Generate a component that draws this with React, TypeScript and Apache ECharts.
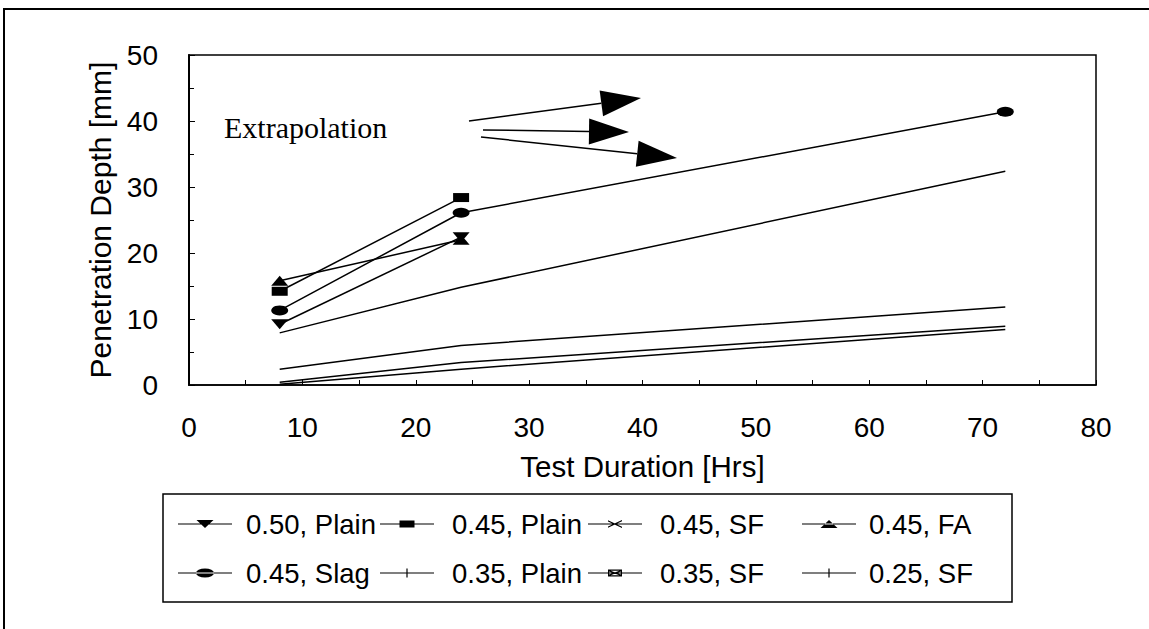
import React, { useEffect, useRef } from "react";
import * as echarts from "echarts";

// ---- data ----
const hours = [8, 24, 72];
const seriesNames = [
  "0.50, Plain",
  "0.45, Plain",
  "0.45, SF",
  "0.45, FA",
  "0.45, Slag",
  "0.35, Plain",
  "0.35, SF",
  "0.25, SF",
];
const plain050 = [9.2, 22.4];
const plain045 = [14.2, 28.4];
const sf045 = [7.9, 14.8, 32.4];
const fa045 = [15.8, 22.0];
const slag045 = [11.3, 26.1, 41.4];
const plain035 = [2.4, 6.0, 11.8];
const sf035 = [0.4, 3.4, 8.9];
const sf025 = [0.1, 2.4, 8.4];
const seriesValues = [plain050, plain045, sf045, fa045, slag045, plain035, sf035, sf025];

const xTickMin = 0;
const xTickMax = 80;
const xTickStep = 10;
const yTickMin = 0;
const yTickMax = 50;
const yTickStep = 10;

// ---- styling ----
const SANS = "'Liberation Sans', Arial, sans-serif";
const SERIF = "'Liberation Serif', 'Times New Roman', serif";

const lineBase = "M0,0M54,10M0,4.5H54V5.5H0Z";
const legendIcons = [
  `path://${lineBase}M18.5,1H35.5L27,9Z`,
  `path://${lineBase}M19.5,1.5H34.5V8.5H19.5Z`,
  `path://${lineBase}M20,1.2L34,7.8L34,9L20,2.4ZM20,7.6L34,1L34,2.2L20,8.8Z`,
  `path://${lineBase}M18.5,9H35.5L27,1Z`,
  `path://${lineBase}M18,5A9,4.5 0 1 0 36,5A9,4.5 0 1 0 18,5Z`,
  `path://${lineBase}M26.4,0.5H27.6V9.5H26.4Z`,
  `path://${lineBase}M20,1.5H34V8.5H20ZM21.2,2.7V7.3H32.8V2.7ZM21.2,2.7L22.6,2.7L32.8,6.5L32.8,7.3L31.4,7.3L21.2,3.5ZM21.2,6.5L31.4,2.7L32.8,2.7L32.8,3.5L22.6,7.3L21.2,7.3Z`,
  `path://${lineBase}M26.4,0.5H27.6V9.5H26.4Z`,
];
const markerSymbols: any[] = [
  { symbol: "triangle", symbolSize: [17, 10], symbolRotate: 180 },
  { symbol: "rect", symbolSize: [16, 9] },
  { symbol: "none" },
  { symbol: "triangle", symbolSize: [17, 10] },
  { symbol: "circle", symbolSize: [17, 10] },
  { symbol: "none" },
  { symbol: "none" },
  { symbol: "none" },
];

const legendIconLeft = [178, 380, 588, 802];
const legendTextLeft = [246, 452, 660, 869];
const legendRowCenter = [525, 574];

export default function App() {
  const ref = useRef<HTMLDivElement>(null);

  useEffect(() => {
    if (!ref.current) return;
    const chart = echarts.init(ref.current, null, { renderer: "svg" });

    const series = seriesNames.map((name, i) => ({
      name,
      type: "line",
      data: seriesValues[i].map((v, j) => [hours[j], v]),
      lineStyle: { color: "#000", width: 1.5 },
      itemStyle: { color: "#000" },
      ...markerSymbols[i],
      z: 3,
    }));

    const legends = seriesNames.map((name, i) => {
      const col = i % 4;
      const row = Math.floor(i / 4);
      return {
        show: true,
        orient: "horizontal",
        left: legendIconLeft[col],
        top: legendRowCenter[row] - 15,
        padding: 0,
        itemWidth: 54,
        itemHeight: 10,
        selectedMode: false,
        data: [{ name, icon: legendIcons[i] }],
        itemStyle: { borderWidth: 0 },
        textStyle: {
          fontFamily: SANS,
          fontSize: 27.5,
          color: "#000",
          padding: [0, 0, 0, legendTextLeft[col] - legendIconLeft[col] - 54 - 5],
        },
      };
    });

    const arrows = [
      { from: [469, 121], to: [641, 98] },
      { from: [483, 130], to: [629, 132] },
      { from: [481, 137], to: [677, 158] },
    ];
    const arrowGraphics: any[] = [];
    arrows.forEach((a) => {
      const dx = a.to[0] - a.from[0];
      const dy = a.to[1] - a.from[1];
      const len = Math.sqrt(dx * dx + dy * dy);
      const ux = dx / len;
      const uy = dy / len;
      const headLen = 40;
      const half = 13;
      const bx = a.to[0] - ux * headLen;
      const by = a.to[1] - uy * headLen;
      arrowGraphics.push({
        type: "line",
        shape: { x1: a.from[0], y1: a.from[1], x2: bx, y2: by },
        style: { stroke: "#000", lineWidth: 1.5 },
      });
      arrowGraphics.push({
        type: "polygon",
        shape: {
          points: [
            [a.to[0], a.to[1]],
            [bx - uy * half, by + ux * half],
            [bx + uy * half, by - ux * half],
          ],
        },
        style: { fill: "#000" },
      });
    });

    chart.setOption({
      animation: false,
      backgroundColor: "#fff",
      grid: {
        left: 189,
        right: 53,
        top: 55,
        bottom: 244,
        show: true,
        borderColor: "#000",
        borderWidth: 1.5,
        containLabel: false,
      },
      xAxis: {
        type: "value",
        min: xTickMin,
        max: xTickMax,
        interval: xTickStep,
        name: "Test Duration [Hrs]",
        nameLocation: "middle",
        nameGap: 66,
        nameTextStyle: { fontFamily: SANS, fontSize: 29.5, color: "#000" },
        axisLine: { show: true, onZero: false, lineStyle: { color: "#000", width: 1.5 } },
        axisTick: { show: true, inside: true, length: 5, lineStyle: { color: "#000" } },
        minorTick: { show: true, splitNumber: 2, length: 5, lineStyle: { color: "#000" } },
        splitLine: { show: false },
        axisLabel: { fontFamily: SANS, fontSize: 28, color: "#000", margin: 28 },
      },
      yAxis: {
        type: "value",
        min: yTickMin,
        max: yTickMax,
        interval: yTickStep,
        name: "Penetration Depth [mm]",
        nameLocation: "middle",
        nameGap: 70,
        nameTextStyle: { fontFamily: SANS, fontSize: 30, color: "#000" },
        axisLine: { show: true, lineStyle: { color: "#000", width: 2 } },
        axisTick: { show: true, inside: true, length: 6, lineStyle: { color: "#000" } },
        minorTick: { show: true, splitNumber: 2, length: 5, lineStyle: { color: "#000" } },
        splitLine: { show: false },
        axisLabel: { fontFamily: SANS, fontSize: 28, color: "#000", margin: 31 },
      },
      legend: legends,
      series,
      graphic: [
        {
          type: "rect",
          shape: { x: 4, y: 9, width: 1300, height: 800 },
          style: { fill: "none", stroke: "#000", lineWidth: 2 },
          silent: true,
          z: -1,
        },
        {
          type: "rect",
          shape: { x: 163, y: 494, width: 849, height: 108 },
          style: { fill: "none", stroke: "#000", lineWidth: 1.5 },
          silent: true,
        },
        {
          type: "text",
          x: 224,
          y: 127,
          style: {
            text: "Extrapolation",
            font: `30px ${SERIF}`,
            fill: "#000",
            verticalAlign: "middle",
            align: "left",
          },
        },
        ...arrowGraphics,
      ],
    });

    return () => {
      chart.dispose();
    };
  }, []);

  return (
    <div
      ref={ref}
      style={{ position: "fixed", left: 0, top: 0, width: 1149, height: 629, background: "#fff" }}
    />
  );
}
